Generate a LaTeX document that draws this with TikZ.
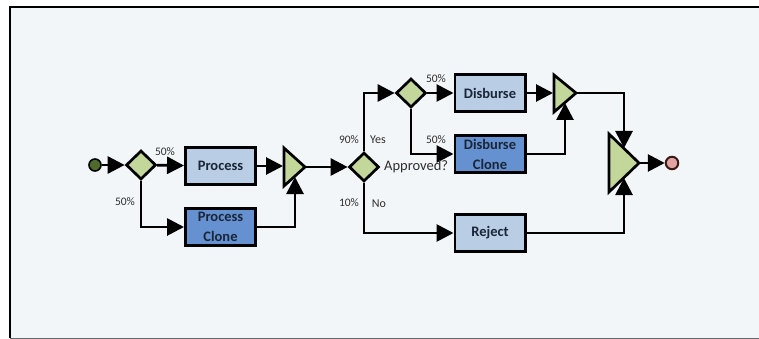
\documentclass[tikz,border=0pt]{standalone}
\usepackage{fontspec}
\setmainfont{Carlito}
\usetikzlibrary{arrows.meta,shapes.geometric}

\definecolor{canvas}{HTML}{F3F6F9}
\definecolor{taskfill}{HTML}{B9CDE5}
\definecolor{clonefill}{HTML}{6591D0}
\definecolor{gatefill}{HTML}{C4D79B}
\definecolor{startfill}{HTML}{4F6B2C}
\definecolor{endfill}{HTML}{E3A3A3}
\definecolor{endrim}{HTML}{3A1A14}
\definecolor{tasktext}{HTML}{1A2638}
\definecolor{notetext}{HTML}{2E2E2E}

\begin{document}
\begin{tikzpicture}[x=1pt,y=-1pt,
  task/.style={draw=black, line width=2.8pt, fill=taskfill,
    minimum width=70.2pt, minimum height=37.2pt, inner sep=0pt,
    font=\fontsize{14.5}{20}\selectfont\bfseries, text=tasktext, align=center},
  clonetask/.style={task, fill=clonefill},
  decision/.style={diamond, draw=black, line width=2.7pt, fill=gatefill,
    minimum width=30pt, minimum height=29pt, inner sep=0pt},
  merge/.style={draw=black, line width=2.7pt, fill=gatefill, line join=miter},
  startev/.style={circle, draw=black, line width=1.6pt, fill=startfill,
    minimum size=12pt, inner sep=0pt},
  endev/.style={circle, draw=endrim, line width=2pt, fill=endfill,
    minimum size=12.5pt, inner sep=0pt},
  flow/.style={line width=2.8pt, -{Triangle[length=17pt,width=17pt]}},
  note/.style={font=\fontsize{11.5}{13}\selectfont, text=notetext, inner sep=0pt},
  answer/.style={font=\fontsize{12}{14}\selectfont, text=notetext, inner sep=0pt}
]
\useasboundingbox (0,0) rectangle (759,339);

% canvas and its frame (open on the right)
\fill[canvas] (10,7) rectangle (770,338);
\draw[black!60, line width=1pt] (10,338) -- (770,338);
\draw[line width=1.6pt] (10,338) -- (10,7) -- (770,7);

% events, gateways and tasks
\node[startev] (start) at (95,165) {};
\node[decision] (split) at (141,165) {};
\node[task] (proc) at (220.5,166) {Process};
\node[clonetask] (procclone) at (220.5,227) {Process\\Clone};
\node[decision] (approved) at (364,167) {};
\node[decision] (split2) at (411,93) {};
\node[task] (disb) at (490,93) {Disburse};
\node[clonetask] (disbclone) at (490,154) {Disburse\\Clone};
\node[task] (reject) at (490,233) {Reject};
\node[endev] (finish) at (672,163) {};

% merge gateways drawn as triangles
\filldraw[merge] (284,148) -- (284,186) -- (305,167) -- cycle;
\filldraw[merge] (554,75) -- (554,112) -- (576,93) -- cycle;
\filldraw[merge] (609,134) -- (609,192) -- (639,163) -- cycle;
\coordinate (m1in) at (283,166);
\coordinate (m1low) at (295,177);
\coordinate (m1out) at (306,167);
\coordinate (m2in) at (553,93);
\coordinate (m2low) at (565,103);
\coordinate (m2out) at (577,93);
\coordinate (m3up) at (624,148);
\coordinate (m3low) at (624,178);
\coordinate (m3out) at (640,163);

% sequence flows
\draw[flow] (start) -- (split);
\draw[flow] (split) -- (proc);
\draw[flow] (split.south) |- (procclone.west);
\draw[flow] (proc) -- (m1in);
\draw[flow] (procclone.east) -| (m1low);
\draw[flow] (m1out) -- (approved.west);
\draw[flow] (approved.north) |- (split2.west);
\draw[flow] (approved.south) |- (reject.west);
\draw[flow] (split2) -- (disb);
\draw[flow] (split2.south) |- (disbclone.west);
\draw[flow] (disb) -- (m2in);
\draw[flow] (disbclone.east) -| (m2low);
\draw[flow] (m2out) -| (m3up);
\draw[flow] (reject.east) -| (m3low);
\draw[flow] (m3out) -- (finish);

% branch labels
\node[note] (p1) at (165,152) {50\%};
\node[note] (p2) at (125,202) {50\%};
\node[note] (p3) at (349,140) {90\%};
\node[answer] (yes) at (378,140) {Yes};
\node[note] (p4) at (349,203) {10\%};
\node[answer] (no) at (379,204) {No};
\node[font=\fontsize{14.5}{16}\selectfont, text=notetext, inner sep=0pt, anchor=west] (q) at (384,167) {Approved?};
\node[note] (p5) at (436,79) {50\%};
\node[note] (p6) at (436,140) {50\%};
\end{tikzpicture}
\end{document}
